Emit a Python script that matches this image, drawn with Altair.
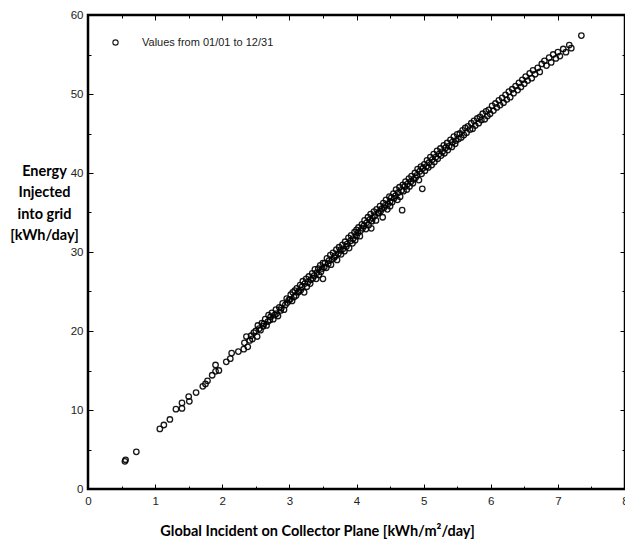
import altair as alt
import pandas as pd

# ---- data ----
x_vals = [
    0.55, 0.56, 0.72, 1.07, 1.13, 1.22, 1.31, 1.40, 1.40, 1.50, 1.51, 1.61, 1.71, 1.75, 1.78, 1.85, 1.90, 1.90, 1.95, 2.06, 2.12, 2.14, 2.24, 2.32,
    2.33, 2.36, 2.38, 2.41, 2.43, 2.45, 2.47, 2.50, 2.52, 2.53, 2.55, 2.57, 2.59, 2.61, 2.62, 2.64, 2.66, 2.68, 2.69, 2.71, 2.72, 2.74, 2.76, 2.78,
    2.80, 2.81, 2.83, 2.85, 2.87, 2.88, 2.90, 2.92, 2.94, 2.96, 2.97, 2.99,
    3.01, 3.02, 3.04, 3.05, 3.07, 3.08, 3.10, 3.11, 3.13, 3.14, 3.16, 3.17, 3.19, 3.20, 3.22, 3.23, 3.25, 3.26, 3.28, 3.29, 3.31, 3.32, 3.34, 3.35,
    3.37, 3.38, 3.40, 3.41, 3.43, 3.44, 3.46, 3.47, 3.49, 3.50, 3.50, 3.52,
    3.53, 3.55, 3.56, 3.58, 3.59, 3.61, 3.62, 3.64, 3.65, 3.67, 3.68, 3.70, 3.71, 3.73, 3.74, 3.76, 3.77, 3.79, 3.80, 3.82, 3.83, 3.85, 3.86, 3.88,
    3.89, 3.91, 3.92, 3.94, 3.95, 3.97, 3.98, 4.00, 4.00,
    4.02, 4.03, 4.05, 4.06, 4.08, 4.09, 4.11, 4.12, 4.14, 4.15, 4.17, 4.18, 4.20, 4.22, 4.21, 4.23, 4.24, 4.26, 4.27, 4.29, 4.30, 4.32, 4.33, 4.35,
    4.36, 4.38, 4.39, 4.40, 4.41, 4.43, 4.44, 4.46, 4.47, 4.49, 4.50, 4.50,
    4.52, 4.53, 4.55, 4.56, 4.58, 4.59, 4.61, 4.62, 4.64, 4.65, 4.67, 4.68, 4.69, 4.70, 4.72, 4.73, 4.75, 4.76, 4.78, 4.79, 4.81, 4.82, 4.84, 4.85,
    4.87, 4.88, 4.90, 4.91, 4.93, 4.94, 4.96, 4.97, 4.98, 4.99,
    5.01, 5.02, 5.04, 5.05, 5.07, 5.08, 5.10, 5.12, 5.13, 5.15, 5.16, 5.18, 5.20, 5.21, 5.23, 5.25, 5.26, 5.28, 5.30, 5.31, 5.33, 5.35, 5.36, 5.38,
    5.40, 5.42, 5.43, 5.45, 5.47, 5.48, 5.50,
    5.52, 5.54, 5.56, 5.58, 5.60, 5.62, 5.64, 5.66, 5.69, 5.71, 5.73, 5.75, 5.77, 5.80, 5.82, 5.84, 5.86, 5.88, 5.91, 5.93, 5.95, 5.97, 5.99,
    6.02, 6.04, 6.07, 6.09, 6.12, 6.14, 6.17, 6.19, 6.22, 6.24, 6.27, 6.29, 6.32, 6.34, 6.37, 6.40, 6.42, 6.45, 6.47, 6.50,
    6.52, 6.55, 6.58, 6.61, 6.63, 6.66, 6.70, 6.73, 6.76, 6.80, 6.83, 6.87, 6.90, 6.93, 6.97, 7.00, 7.03, 7.08, 7.12, 7.17, 7.20, 7.35,
]
y_vals = [
    3.5, 3.7, 4.7, 7.6, 8.1, 8.8, 10.1, 10.9, 10.2, 11.7, 11.1, 12.2, 13.0, 13.3, 13.7, 14.4, 14.9, 15.7, 15.0, 16.1, 16.5, 17.2, 17.4, 17.7,
    18.5, 19.3, 18.0, 18.8, 19.4, 19.0, 19.8, 20.0, 19.3, 20.7, 20.3, 20.1, 21.0, 20.6, 20.9, 21.5, 20.7, 21.2, 22.0, 21.4, 21.8, 22.3, 21.5, 22.0,
    22.7, 22.2, 21.9, 23.0, 22.6, 22.9, 23.5, 22.7, 23.3, 24.1, 23.6, 23.9,
    24.0, 24.6, 23.8, 24.9, 24.3, 25.1, 24.5, 25.4, 24.9, 25.0, 25.8, 25.2, 25.6, 26.3, 24.9, 26.0, 26.6, 25.6, 26.2, 26.9, 26.0, 26.5, 27.3, 26.7,
    27.0, 27.8, 26.6, 27.4, 27.9, 27.1, 28.3, 27.5, 27.9, 28.6, 26.6, 28.1,
    28.6, 28.0, 29.2, 28.5, 28.9, 29.6, 28.4, 29.1, 29.9, 29.3, 29.5, 30.3, 29.0, 29.8, 30.6, 30.2, 29.7, 30.9, 30.4, 30.1, 31.3, 30.7, 31.0, 31.8,
    30.5, 31.4, 32.1, 31.1, 31.7, 32.5, 31.5, 32.0, 32.8,
    32.4, 33.1, 32.0, 32.7, 33.5, 33.0, 33.3, 34.0, 32.9, 33.7, 34.4, 33.4, 34.1, 33.0, 34.8, 33.9, 34.3, 35.1, 34.6, 34.0, 35.4, 34.9, 35.0, 35.8,
    35.2, 35.5, 34.4, 36.2, 35.6, 35.9, 36.6, 35.4, 36.1, 37.0, 36.4, 35.8,
    36.9, 36.3, 37.4, 36.8, 37.1, 37.9, 36.6, 37.5, 38.2, 37.0, 37.8, 35.3, 38.5, 37.7, 38.3, 38.9, 37.9, 38.6, 39.3, 38.3, 38.9, 39.6, 38.7, 39.2,
    40.0, 39.4, 39.7, 40.5, 39.1, 40.2, 40.8, 39.9, 38.0, 40.6,
    41.1, 40.3, 40.8, 41.6, 40.7, 41.3, 42.0, 41.0, 41.7, 42.4, 41.4, 42.0, 42.8, 41.8, 42.4, 43.1, 42.2, 42.7, 43.5, 42.5, 43.2, 43.8, 42.9, 43.4,
    44.2, 43.3, 43.9, 44.6, 43.7, 44.1, 44.9,
    44.3, 45.0, 44.5, 45.4, 44.8, 45.7, 45.1, 45.9, 45.5, 46.3, 45.6, 46.6, 46.0, 46.9, 46.3, 47.1, 46.7, 47.5, 46.8, 47.8, 47.2, 48.0, 47.5,
    48.5, 47.9, 48.8, 48.3, 49.2, 48.6, 49.5, 48.9, 49.9, 49.3, 50.3, 49.6, 50.6, 50.1, 51.0, 50.5, 51.4, 50.9, 51.8, 51.3,
    52.2, 51.7, 52.6, 52.0, 53.0, 52.5, 53.3, 52.8, 53.8, 54.2, 53.6, 54.6, 54.0, 55.0, 54.5, 55.3, 54.8, 55.7, 55.3, 56.2, 55.8, 57.4,
]
series_label = "Values from 01/01 to 12/31"

x_ticks = [0, 0.5, 1, 1.5, 2, 2.5, 3, 3.5, 4, 4.5, 5, 5.5, 6, 6.5, 7, 7.5, 8]
y_ticks = [0, 5, 10, 15, 20, 25, 30, 35, 40, 45, 50, 55, 60]

x_title = "Global Incident on Collector Plane [kWh/m\u00b2/day]"
y_title = ["Energy", "Injected", "into grid", "[kWh/day]"]

df = pd.DataFrame({"x": x_vals, "y": y_vals, "series": series_label})

W, H = 537, 474
label_font = "Liberation Sans Narrow, Liberation Sans, Arial"
title_font = "Lato"

x_axis = alt.Axis(
    values=x_ticks,
    format="~g",
    domain=False,
    ticks=False,
    grid=True,
    gridColor="black",
    gridWidth=1,
    gridDash={"condition": {"test": "datum.value % 1 === 0", "value": [5, H - 10]},
              "value": [3, H - 6]},
    labelExpr="datum.value % 1 === 0 ? datum.label : ''",
    labelFlush=False,
    labelOverlap=False,
    labelFont=label_font,
    labelFontSize=11.5,
    labelColor="#222",
    labelPadding=6,
    title=x_title,
    titleFont=title_font,
    titleFontWeight="bold",
    titleFontSize=14.5,
    titleColor="black",
    titleX=229,
    titleY=46,
    titleAlign="center",
    titleBaseline="alphabetic",
)

y_axis = alt.Axis(
    values=y_ticks,
    format="~g",
    domain=False,
    ticks=False,
    grid=True,
    gridColor="black",
    gridWidth=1,
    gridDash={"condition": {"test": "datum.value % 10 === 0", "value": [5, W - 10]},
              "value": [3, W - 6]},
    labelExpr="datum.value % 10 === 0 ? datum.label : ''",
    labelFlush=False,
    labelOverlap=False,
    labelFont=label_font,
    labelFontSize=11.5,
    labelColor="#222",
    labelPadding=5,
    title=y_title,
    titleFont=title_font,
    titleFontWeight="bold",
    titleFontSize=14.5,
    titleColor="black",
    titleAngle=0,
    titleX=-44,
    titleY=160,
    titleAlign="center",
    titleBaseline="alphabetic",
    titleLineHeight=21.5,
)

chart = alt.Chart(df).mark_point(
    shape="circle", filled=False, color="black", size=30, strokeWidth=1.3, opacity=0.9
).encode(
    x=alt.X("x:Q", scale=alt.Scale(domain=[0, 8], nice=False, zero=False), axis=x_axis),
    y=alt.Y("y:Q", scale=alt.Scale(domain=[0, 60], nice=False, zero=False), axis=y_axis),
    shape=alt.Shape(
        "series:N",
        scale=alt.Scale(range=["circle"]),
        legend=alt.Legend(
            title=None,
            orient="none",
            legendX=22,
            legendY=22,
            padding=0,
            symbolSize=28,
            symbolStrokeColor="black",
            symbolFillColor="transparent",
            symbolStrokeWidth=1.1,
            labelOffset=21,
            labelFont=label_font,
            labelFontSize=11,
            labelColor="#222",
        ),
    ),
).properties(
    width=W,
    height=H,
    autosize=alt.AutoSizeParams(type="none"),
    padding={"left": 80, "top": 7, "right": 0, "bottom": 50},
).configure(
    background="white",
    view=alt.ViewConfig(stroke="black", strokeWidth=2.5),
)

chart.save("out.html", embed_options={"renderer": "svg", "actions": False})
